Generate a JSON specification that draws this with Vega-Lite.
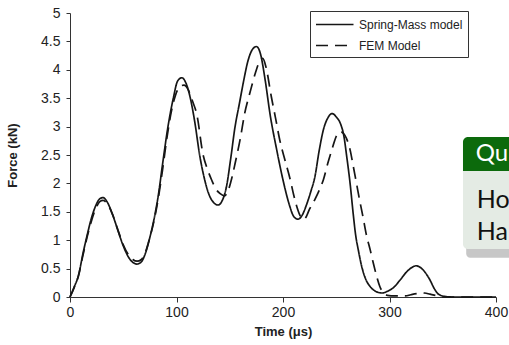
{
  "$schema": "https://vega.github.io/schema/vega-lite/v6.json",
  "width": 426,
  "height": 284,
  "autosize": {"type": "none"},
  "padding": {"left": 70, "top": 13, "right": 13, "bottom": 48},
  "background": "white",
  "config": {
    "view": {"stroke": null},
    "font": "Liberation Sans",
    "axis": {"grid": false, "domainColor": "#333", "tickColor": "#333", "labelColor": "#222", "titleColor": "#222", "labelFont": "Liberation Sans", "titleFont": "Liberation Sans", "labelFlush": false, "labelOverlap": false},
    "axisX": {"labelFontSize": 14, "titleFontSize": 13, "titleFontWeight": "bold", "tickSize": 5, "labelPadding": 3, "titlePadding": 6},
    "axisY": {"labelFontSize": 14, "titleFontSize": 13, "titleFontWeight": "bold", "tickSize": 4, "labelPadding": 6, "titlePadding": 21}
  },
  "layer": [
    {
      "data": {"values": [
        {"t":0,"F":0,"model":"Spring-Mass model"},{"t":4,"F":0.18,"model":"Spring-Mass model"},{"t":8,"F":0.38,"model":"Spring-Mass model"},{"t":12,"F":0.75,"model":"Spring-Mass model"},{"t":16,"F":1.08,"model":"Spring-Mass model"},{"t":20,"F":1.38,"model":"Spring-Mass model"},{"t":24,"F":1.6,"model":"Spring-Mass model"},{"t":28,"F":1.73,"model":"Spring-Mass model"},{"t":31,"F":1.75,"model":"Spring-Mass model"},{"t":35,"F":1.67,"model":"Spring-Mass model"},{"t":40,"F":1.45,"model":"Spring-Mass model"},{"t":45,"F":1.17,"model":"Spring-Mass model"},{"t":50,"F":0.9,"model":"Spring-Mass model"},{"t":55,"F":0.7,"model":"Spring-Mass model"},{"t":59,"F":0.61,"model":"Spring-Mass model"},{"t":63,"F":0.58,"model":"Spring-Mass model"},{"t":67,"F":0.62,"model":"Spring-Mass model"},{"t":71,"F":0.78,"model":"Spring-Mass model"},{"t":75,"F":1.05,"model":"Spring-Mass model"},{"t":79,"F":1.38,"model":"Spring-Mass model"},{"t":83,"F":1.8,"model":"Spring-Mass model"},{"t":87,"F":2.35,"model":"Spring-Mass model"},{"t":92,"F":3.0,"model":"Spring-Mass model"},{"t":97,"F":3.5,"model":"Spring-Mass model"},{"t":101,"F":3.8,"model":"Spring-Mass model"},{"t":105,"F":3.86,"model":"Spring-Mass model"},{"t":109,"F":3.76,"model":"Spring-Mass model"},{"t":113,"F":3.5,"model":"Spring-Mass model"},{"t":117,"F":3.1,"model":"Spring-Mass model"},{"t":122,"F":2.47,"model":"Spring-Mass model"},{"t":126,"F":2.1,"model":"Spring-Mass model"},{"t":130,"F":1.83,"model":"Spring-Mass model"},{"t":135,"F":1.66,"model":"Spring-Mass model"},{"t":139,"F":1.62,"model":"Spring-Mass model"},{"t":143,"F":1.7,"model":"Spring-Mass model"},{"t":147,"F":1.95,"model":"Spring-Mass model"},{"t":151,"F":2.45,"model":"Spring-Mass model"},{"t":155,"F":3.0,"model":"Spring-Mass model"},{"t":159,"F":3.4,"model":"Spring-Mass model"},{"t":163,"F":3.8,"model":"Spring-Mass model"},{"t":167,"F":4.15,"model":"Spring-Mass model"},{"t":171,"F":4.35,"model":"Spring-Mass model"},{"t":175,"F":4.41,"model":"Spring-Mass model"},{"t":179,"F":4.27,"model":"Spring-Mass model"},{"t":183,"F":3.85,"model":"Spring-Mass model"},{"t":188,"F":3.2,"model":"Spring-Mass model"},{"t":194,"F":2.6,"model":"Spring-Mass model"},{"t":200,"F":2.06,"model":"Spring-Mass model"},{"t":206,"F":1.62,"model":"Spring-Mass model"},{"t":210,"F":1.42,"model":"Spring-Mass model"},{"t":214,"F":1.37,"model":"Spring-Mass model"},{"t":218,"F":1.44,"model":"Spring-Mass model"},{"t":222,"F":1.62,"model":"Spring-Mass model"},{"t":226,"F":1.85,"model":"Spring-Mass model"},{"t":230,"F":2.12,"model":"Spring-Mass model"},{"t":234,"F":2.58,"model":"Spring-Mass model"},{"t":238,"F":2.95,"model":"Spring-Mass model"},{"t":242,"F":3.15,"model":"Spring-Mass model"},{"t":246,"F":3.23,"model":"Spring-Mass model"},{"t":250,"F":3.17,"model":"Spring-Mass model"},{"t":254,"F":3.05,"model":"Spring-Mass model"},{"t":257,"F":2.85,"model":"Spring-Mass model"},{"t":260,"F":2.45,"model":"Spring-Mass model"},{"t":263,"F":2.0,"model":"Spring-Mass model"},{"t":266,"F":1.45,"model":"Spring-Mass model"},{"t":268,"F":1.12,"model":"Spring-Mass model"},{"t":271,"F":0.8,"model":"Spring-Mass model"},{"t":274,"F":0.53,"model":"Spring-Mass model"},{"t":278,"F":0.3,"model":"Spring-Mass model"},{"t":282,"F":0.18,"model":"Spring-Mass model"},{"t":287,"F":0.1,"model":"Spring-Mass model"},{"t":293,"F":0.07,"model":"Spring-Mass model"},{"t":298,"F":0.1,"model":"Spring-Mass model"},{"t":304,"F":0.17,"model":"Spring-Mass model"},{"t":310,"F":0.3,"model":"Spring-Mass model"},{"t":316,"F":0.44,"model":"Spring-Mass model"},{"t":321,"F":0.52,"model":"Spring-Mass model"},{"t":325,"F":0.55,"model":"Spring-Mass model"},{"t":329,"F":0.52,"model":"Spring-Mass model"},{"t":334,"F":0.42,"model":"Spring-Mass model"},{"t":338,"F":0.3,"model":"Spring-Mass model"},{"t":342,"F":0.15,"model":"Spring-Mass model"},{"t":346,"F":0.05,"model":"Spring-Mass model"},{"t":352,"F":0.01,"model":"Spring-Mass model"},{"t":360,"F":0,"model":"Spring-Mass model"},{"t":400,"F":0,"model":"Spring-Mass model"},
        {"t":0,"F":0,"model":"FEM Model"},{"t":4,"F":0.17,"model":"FEM Model"},{"t":8,"F":0.38,"model":"FEM Model"},{"t":12,"F":0.72,"model":"FEM Model"},{"t":16,"F":1.05,"model":"FEM Model"},{"t":20,"F":1.33,"model":"FEM Model"},{"t":24,"F":1.55,"model":"FEM Model"},{"t":28,"F":1.68,"model":"FEM Model"},{"t":31,"F":1.7,"model":"FEM Model"},{"t":35,"F":1.64,"model":"FEM Model"},{"t":40,"F":1.45,"model":"FEM Model"},{"t":45,"F":1.18,"model":"FEM Model"},{"t":50,"F":0.92,"model":"FEM Model"},{"t":55,"F":0.74,"model":"FEM Model"},{"t":59,"F":0.66,"model":"FEM Model"},{"t":63,"F":0.63,"model":"FEM Model"},{"t":67,"F":0.66,"model":"FEM Model"},{"t":71,"F":0.8,"model":"FEM Model"},{"t":75,"F":1.05,"model":"FEM Model"},{"t":79,"F":1.35,"model":"FEM Model"},{"t":83,"F":1.75,"model":"FEM Model"},{"t":87,"F":2.25,"model":"FEM Model"},{"t":91,"F":2.8,"model":"FEM Model"},{"t":95,"F":3.25,"model":"FEM Model"},{"t":99,"F":3.55,"model":"FEM Model"},{"t":103,"F":3.7,"model":"FEM Model"},{"t":107,"F":3.73,"model":"FEM Model"},{"t":111,"F":3.65,"model":"FEM Model"},{"t":115,"F":3.45,"model":"FEM Model"},{"t":119,"F":3.22,"model":"FEM Model"},{"t":125,"F":2.5,"model":"FEM Model"},{"t":129,"F":2.25,"model":"FEM Model"},{"t":133,"F":2.06,"model":"FEM Model"},{"t":137,"F":1.9,"model":"FEM Model"},{"t":141,"F":1.82,"model":"FEM Model"},{"t":145,"F":1.78,"model":"FEM Model"},{"t":149,"F":1.9,"model":"FEM Model"},{"t":152,"F":2.1,"model":"FEM Model"},{"t":155,"F":2.35,"model":"FEM Model"},{"t":160,"F":2.8,"model":"FEM Model"},{"t":164,"F":3.23,"model":"FEM Model"},{"t":169,"F":3.6,"model":"FEM Model"},{"t":174,"F":3.94,"model":"FEM Model"},{"t":178,"F":4.15,"model":"FEM Model"},{"t":181,"F":4.2,"model":"FEM Model"},{"t":184,"F":4.05,"model":"FEM Model"},{"t":189,"F":3.53,"model":"FEM Model"},{"t":193,"F":3.15,"model":"FEM Model"},{"t":197,"F":2.76,"model":"FEM Model"},{"t":202,"F":2.4,"model":"FEM Model"},{"t":207,"F":2.05,"model":"FEM Model"},{"t":210,"F":1.8,"model":"FEM Model"},{"t":213,"F":1.59,"model":"FEM Model"},{"t":217,"F":1.4,"model":"FEM Model"},{"t":219,"F":1.37,"model":"FEM Model"},{"t":221,"F":1.39,"model":"FEM Model"},{"t":225,"F":1.55,"model":"FEM Model"},{"t":230,"F":1.72,"model":"FEM Model"},{"t":234,"F":1.88,"model":"FEM Model"},{"t":238,"F":2.07,"model":"FEM Model"},{"t":242,"F":2.35,"model":"FEM Model"},{"t":246,"F":2.6,"model":"FEM Model"},{"t":250,"F":2.83,"model":"FEM Model"},{"t":254,"F":2.91,"model":"FEM Model"},{"t":258,"F":2.85,"model":"FEM Model"},{"t":263,"F":2.59,"model":"FEM Model"},{"t":266,"F":2.3,"model":"FEM Model"},{"t":269,"F":2.0,"model":"FEM Model"},{"t":272,"F":1.7,"model":"FEM Model"},{"t":275,"F":1.42,"model":"FEM Model"},{"t":278,"F":1.12,"model":"FEM Model"},{"t":282,"F":0.82,"model":"FEM Model"},{"t":285,"F":0.58,"model":"FEM Model"},{"t":288,"F":0.36,"model":"FEM Model"},{"t":291,"F":0.18,"model":"FEM Model"},{"t":294,"F":0.08,"model":"FEM Model"},{"t":298,"F":0.03,"model":"FEM Model"},{"t":305,"F":0.02,"model":"FEM Model"},{"t":315,"F":0.02,"model":"FEM Model"},{"t":320,"F":0.04,"model":"FEM Model"},{"t":326,"F":0.06,"model":"FEM Model"},{"t":333,"F":0.07,"model":"FEM Model"},{"t":338,"F":0.05,"model":"FEM Model"},{"t":343,"F":0.03,"model":"FEM Model"},{"t":350,"F":0,"model":"FEM Model"},{"t":400,"F":0,"model":"FEM Model"}
      ]},
      "mark": {"type": "line", "interpolate": "monotone", "strokeWidth": 1.7},
      "encoding": {
        "x": {"field": "t", "type": "quantitative", "scale": {"domain": [0, 400], "nice": false},
          "axis": {"values": [0, 100, 200, 300, 400], "title": "Time (μs)"}},
        "y": {"field": "F", "type": "quantitative", "scale": {"domain": [0, 5], "nice": false},
          "axis": {"values": [0, 0.5, 1, 1.5, 2, 2.5, 3, 3.5, 4, 4.5, 5], "format": "~g", "title": "Force (kN)"}},
        "color": {"field": "model", "type": "nominal", "scale": {"domain": ["Spring-Mass model", "FEM Model"], "range": ["#161616", "#161616"]},
          "legend": {"orient": "none", "legendX": 240, "legendY": -2, "title": null, "fillColor": "white", "strokeColor": "#333", "padding": 5, "symbolType": "M-1,0H4", "symbolSize": 225, "symbolStrokeWidth": 1.6, "labelFontSize": 12, "labelColor": "#222", "rowPadding": 6, "labelOffset": 27}},
        "strokeDash": {"field": "model", "type": "nominal", "scale": {"domain": ["Spring-Mass model", "FEM Model"], "range": [[1, 0], [12, 7]]}}
      }
    },
    {
      "data": {"values": [{"part": "shadow"}]},
      "mark": {"type": "rect", "fill": "#000", "opacity": 0.22, "cornerRadius": 4},
      "encoding": {
        "x": {"datum": 372, "axis": {"values": [0, 100, 200, 300, 400], "title": "Time (μs)"}},
        "x2": {"datum": 430},
        "y": {"datum": 2.1, "axis": {"values": [0, 0.5, 1, 1.5, 2, 2.5, 3, 3.5, 4, 4.5, 5], "format": "~g", "title": "Force (kN)"}},
        "y2": {"datum": 0.69}}
    },
    {
      "data": {"values": [{"part": "body"}]},
      "mark": {"type": "rect", "fill": "#e4ebe4", "cornerRadiusBottomLeft": 5},
      "encoding": {
        "x": {"datum": 369, "axis": {"values": [0, 100, 200, 300, 400], "title": "Time (μs)"}},
        "x2": {"datum": 430},
        "y": {"datum": 2.218, "axis": {"values": [0, 0.5, 1, 1.5, 2, 2.5, 3, 3.5, 4, 4.5, 5], "format": "~g", "title": "Force (kN)"}},
        "y2": {"datum": 0.845}}
    },
    {
      "data": {"values": [{"part": "header"}]},
      "mark": {"type": "rect", "fill": "#0c6a0c", "cornerRadiusTopLeft": 5},
      "encoding": {
        "x": {"datum": 369, "axis": {"values": [0, 100, 200, 300, 400], "title": "Time (μs)"}},
        "x2": {"datum": 430},
        "y": {"datum": 2.817, "axis": {"values": [0, 0.5, 1, 1.5, 2, 2.5, 3, 3.5, 4, 4.5, 5], "format": "~g", "title": "Force (kN)"}},
        "y2": {"datum": 2.218}}
    },
    {
      "data": {"values": [{"label": "Qu"}]},
      "mark": {"type": "text", "align": "left", "baseline": "alphabetic", "font": "Lato", "fontSize": 24, "color": "white"},
      "encoding": {
        "x": {"datum": 381, "axis": {"values": [0, 100, 200, 300, 400], "title": "Time (μs)"}},
        "y": {"datum": 2.4, "axis": {"values": [0, 0.5, 1, 1.5, 2, 2.5, 3, 3.5, 4, 4.5, 5], "format": "~g", "title": "Force (kN)"}},
        "text": {"field": "label"}}
    },
    {
      "data": {"values": [{"label": "Ho"}]},
      "mark": {"type": "text", "align": "left", "baseline": "alphabetic", "font": "Lato", "fontSize": 25, "color": "#111"},
      "encoding": {
        "x": {"datum": 382, "axis": {"values": [0, 100, 200, 300, 400], "title": "Time (μs)"}},
        "y": {"datum": 1.57, "axis": {"values": [0, 0.5, 1, 1.5, 2, 2.5, 3, 3.5, 4, 4.5, 5], "format": "~g", "title": "Force (kN)"}},
        "text": {"field": "label"}}
    },
    {
      "data": {"values": [{"label": "Ha"}]},
      "mark": {"type": "text", "align": "left", "baseline": "alphabetic", "font": "Lato", "fontSize": 25, "color": "#111"},
      "encoding": {
        "x": {"datum": 382, "axis": {"values": [0, 100, 200, 300, 400], "title": "Time (μs)"}},
        "y": {"datum": 1.0, "axis": {"values": [0, 0.5, 1, 1.5, 2, 2.5, 3, 3.5, 4, 4.5, 5], "format": "~g", "title": "Force (kN)"}},
        "text": {"field": "label"}}
    }
  ]
}
